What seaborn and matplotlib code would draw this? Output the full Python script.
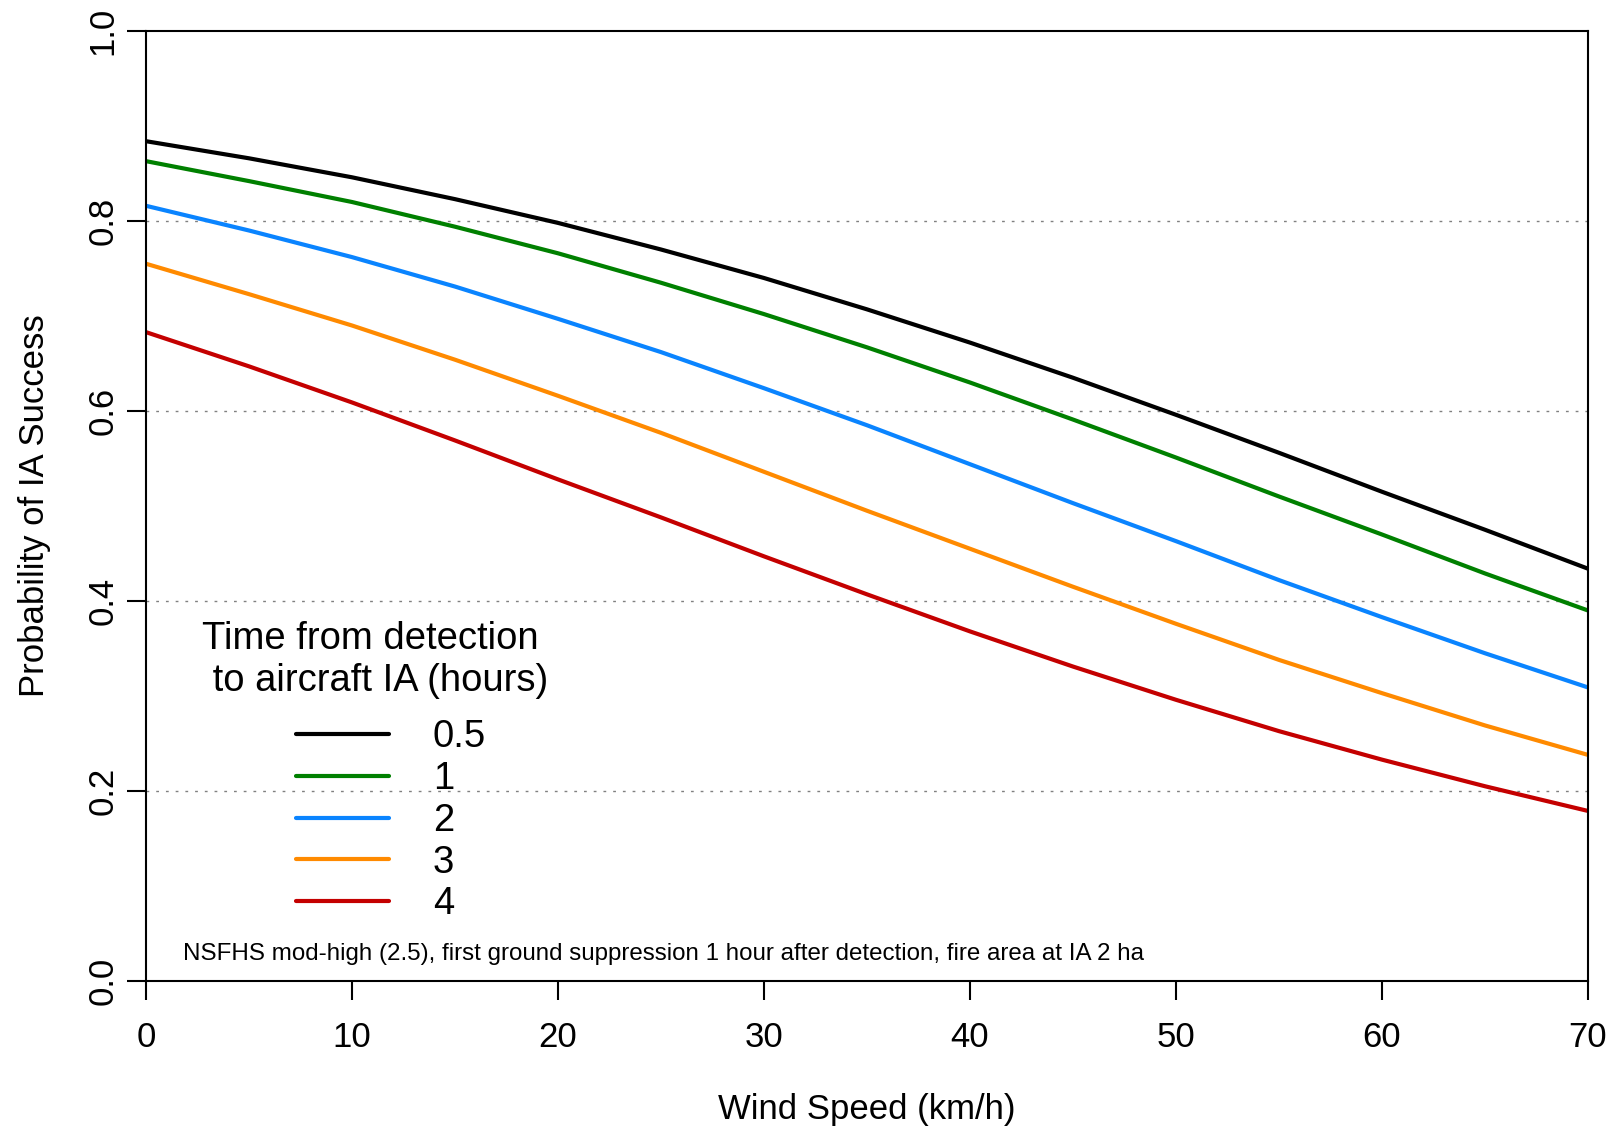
import matplotlib
matplotlib.use('Agg')
import matplotlib.pyplot as plt
import seaborn as sns
import numpy as np
import pandas as pd

# wind speed (km/h) and probability of IA success per detection-to-IA time
wind = [0, 5, 10, 15, 20, 25, 30, 35, 40, 45, 50, 55, 60, 65, 70]
p_0_5 = [0.884, 0.866, 0.846, 0.823, 0.798, 0.770, 0.740, 0.707, 0.672, 0.635, 0.596, 0.556, 0.515, 0.475, 0.434]
p_1 = [0.863, 0.842, 0.820, 0.794, 0.766, 0.735, 0.702, 0.667, 0.630, 0.591, 0.551, 0.510, 0.470, 0.429, 0.390]
p_2 = [0.816, 0.790, 0.762, 0.731, 0.697, 0.662, 0.624, 0.585, 0.544, 0.503, 0.463, 0.422, 0.383, 0.345, 0.309]
p_3 = [0.755, 0.723, 0.690, 0.654, 0.616, 0.577, 0.536, 0.495, 0.455, 0.415, 0.376, 0.338, 0.303, 0.269, 0.238]
p_4 = [0.683, 0.647, 0.609, 0.569, 0.528, 0.488, 0.447, 0.407, 0.368, 0.331, 0.296, 0.263, 0.233, 0.205, 0.179]

hours = ['0.5', '1', '2', '3', '4']
colors = ['#000000', '#008000', '#0A84FF', '#FF8A00', '#C40000']
y_ticks = [0.0, 0.2, 0.4, 0.6, 0.8, 1.0]
x_ticks = [0, 10, 20, 30, 40, 50, 60, 70]
note = 'NSFHS mod-high (2.5), first ground suppression 1 hour after detection, fire area at IA 2 ha'

df = pd.DataFrame({
    'wind': wind * len(hours),
    'prob': p_0_5 + p_1 + p_2 + p_3 + p_4,
    'hours': np.repeat(hours, len(wind)),
})

sns.set_style('white')
plt.rcParams['font.family'] = ['Liberation Sans', 'DejaVu Sans']
plt.rcParams['text.color'] = 'black'
plt.rcParams['axes.labelcolor'] = 'black'
plt.rcParams['xtick.color'] = 'black'
plt.rcParams['ytick.color'] = 'black'

W, H = 1614, 1127
fig = plt.figure(figsize=(W / 100, H / 100), dpi=100)
ax = fig.add_axes([146 / W, 1 - 981 / H, 1442 / W, 950 / H])

for y in y_ticks[1:-1]:
    ax.axhline(y, color='#808080', lw=1.0, ls=(0, (2, 5)), zorder=0)

sns.lineplot(data=df, x='wind', y='prob', hue='hours', hue_order=hours,
             palette=dict(zip(hours, colors)), linewidth=3, ax=ax)

ax.set_xlim(0, 70)
ax.set_ylim(0, 1)
ax.set_xticks(x_ticks)
ax.set_xticklabels([str(v) for v in x_ticks])
ax.set_yticks(y_ticks)
ax.set_yticklabels([f'{v:.1f}' for v in y_ticks], rotation=90, va='center')
ax.tick_params(axis='both', direction='out', length=13.7, width=1.5, labelsize=25,
               bottom=True, left=True, color='black')
ax.tick_params(axis='x', pad=15)
ax.tick_params(axis='y', pad=5.5)
for s in ax.spines.values():
    s.set_visible(True)
    s.set_color('black')
    s.set_linewidth(1.5)

ax.set_xlabel('Wind Speed (km/h)', fontsize=25)
ax.set_ylabel('Probability of IA Success', fontsize=25)
ax.xaxis.set_label_coords(0.5, -0.118)
ax.yaxis.set_label_coords(-0.066, 0.5)

ax.text(1.8, 0.028, note, fontsize=17.4, va='center', ha='left')

# trailing spaces widen the title box a little so the entries sit further right
leg = ax.legend(title='Time from detection   \n to aircraft IA (hours)   ', loc='upper left',
                bbox_to_anchor=(0.0257, 0.399), frameon=False, fontsize=27.5, title_fontsize=27.5,
                handlelength=2.43, handletextpad=1.15, labelspacing=0.15, borderpad=0,
                alignment='center')
leg._legend_box.sep = 15

plt.savefig('out.png', dpi=100)
plt.close()
